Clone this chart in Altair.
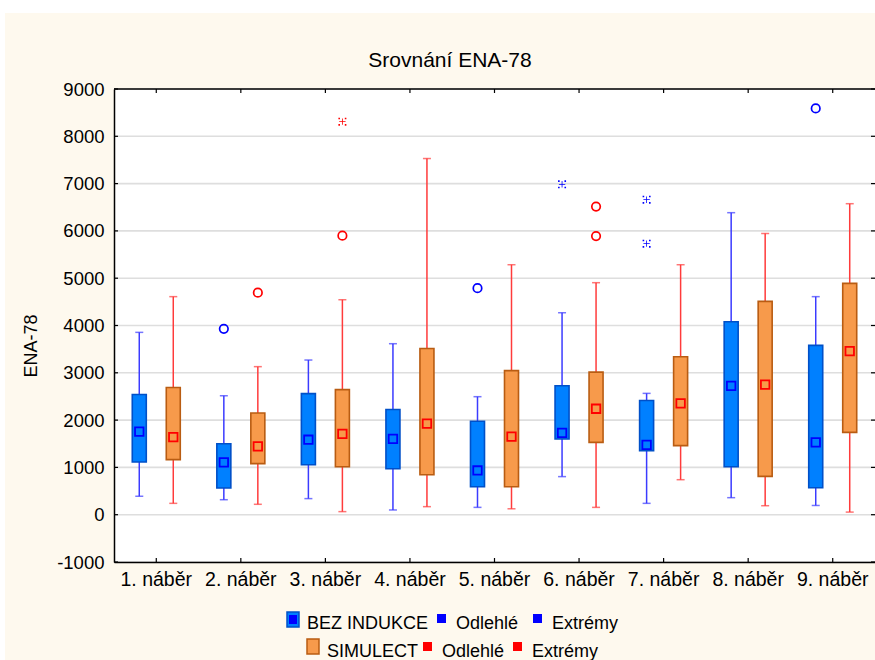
import altair as alt
import pandas as pd

# ---------------- data ----------------
categories = ["1. náběr", "2. náběr", "3. náběr", "4. náběr", "5. náběr",
              "6. náběr", "7. náběr", "8. náběr", "9. náběr"]
groups = ["BEZ INDUKCE", "SIMULECT"]

# BEZ INDUKCE: whisker low, Q1, median, Q3, whisker high
bez_lo = [390, 317, 340, 100, 155, 805, 240, 360, 195]
bez_q1 = [1115, 565, 1055, 970, 590, 1600, 1355, 1015, 570]
bez_med = [1755, 1105, 1585, 1605, 935, 1730, 1475, 2725, 1530]
bez_q3 = [2540, 1500, 2560, 2225, 1975, 2725, 2415, 4080, 3580]
bez_hi = [3855, 2515, 3270, 3615, 2495, 4270, 2565, 6385, 4610]

# SIMULECT
sim_lo = [240, 220, 65, 170, 125, 155, 740, 190, 55]
sim_q1 = [1165, 1080, 1015, 845, 590, 1530, 1460, 810, 1740]
sim_med = [1640, 1445, 1710, 1925, 1650, 2240, 2355, 2750, 3460]
sim_q3 = [2690, 2150, 2645, 3515, 3045, 3015, 3340, 4510, 4890]
sim_hi = [4610, 3130, 4545, 7530, 5285, 4905, 5285, 5945, 6575]

# outliers (Odlehlé) and extremes (Extrémy)
bez_out_cat = ["2. náběr", "5. náběr", "9. náběr"]
bez_out_val = [3930, 4790, 8590]
sim_out_cat = ["2. náběr", "3. náběr", "6. náběr", "6. náběr"]
sim_out_val = [4695, 5900, 5890, 6515]
bez_ext_cat = ["6. náběr", "7. náběr", "7. náběr"]
bez_ext_val = [6985, 6660, 5730]
sim_ext_cat = ["3. náběr"]
sim_ext_val = [8310]

y_ticks = [-1000, 0, 1000, 2000, 3000, 4000, 5000, 6000, 7000, 8000, 9000]

title_text = "Srovnání ENA-78"
y_title = "ENA-78"
legend_labels = ["BEZ INDUKCE", "Odlehlé", "Extrémy", "SIMULECT", "Odlehlé", "Extrémy"]

# ---------------- tables ----------------
box_rows = []
for i, c in enumerate(categories):
    box_rows.append(dict(cat=c, group=groups[0], lo=bez_lo[i], q1=bez_q1[i],
                         med=bez_med[i], q3=bez_q3[i], hi=bez_hi[i]))
    box_rows.append(dict(cat=c, group=groups[1], lo=sim_lo[i], q1=sim_q1[i],
                         med=sim_med[i], q3=sim_q3[i], hi=sim_hi[i]))
box_df = pd.DataFrame(box_rows)

cap_df = pd.concat([
    box_df[["cat", "group", "lo"]].rename(columns={"lo": "v"}),
    box_df[["cat", "group", "hi"]].rename(columns={"hi": "v"}),
])

out_df = pd.DataFrame(
    [dict(cat=c, group=groups[0], v=v) for c, v in zip(bez_out_cat, bez_out_val)]
    + [dict(cat=c, group=groups[1], v=v) for c, v in zip(sim_out_cat, sim_out_val)]
)
ext_df = pd.DataFrame(
    [dict(cat=c, group=groups[0], v=v) for c, v in zip(bez_ext_cat, bez_ext_val)]
    + [dict(cat=c, group=groups[1], v=v) for c, v in zip(sim_ext_cat, sim_ext_val)]
)
tick_df = pd.DataFrame({"v": y_ticks})
cat_df = pd.DataFrame({"cat": categories})
one = pd.DataFrame({"k": [0]})

# ---------------- layout ----------------
W, H = 761, 473
PL, PT = 114, 89
FONT = "Liberation Sans"

BOX_FILL = ["#0080FF", "#F79A4B"]
BOX_STROKE = ["#0050C8", "#B95C12"]
WHISK = ["#3B3BFF", "#FF3B3B"]
MARK = ["#0000FF", "#FF0000"]

yscale = alt.Scale(domain=[-1000, 9000], nice=False, zero=False)
xscale = alt.Scale(domain=categories, paddingInner=0, paddingOuter=0)
xoff = alt.XOffset("group:N", scale=alt.Scale(domain=groups, paddingInner=0, paddingOuter=0.2435))

xenc = alt.X("cat:N", scale=xscale, sort=categories,
             axis=alt.Axis(title=None, labelFont=FONT, labelFontSize=19.5, labelColor="#000",
                           labelPadding=8, labelAngle=0, ticks=False, grid=False,
                           domainColor="#000", domainWidth=1.5, zindex=1))
yenc_axis = alt.Axis(title=None, values=y_ticks, labelExpr="'' + datum.value",
                     labelFont=FONT, labelFontSize=18.5,
                     labelColor="#000", labelPadding=10, ticks=False, grid=False,
                     domainColor="#000", domainWidth=1.5, zindex=1)


def sub(df, g):
    return df[df["group"] == g]


# background pieces
cream = alt.Chart(one).mark_rect(fill="#FEF9EE").encode(
    x=alt.value(5 - PL), x2=alt.value(W + 10), y=alt.value(13 - PT), y2=alt.value(660 - PT + 10))
white = alt.Chart(one).mark_rect(fill="#FFFFFF").encode(
    x=alt.value(0), x2=alt.value(W), y=alt.value(0), y2=alt.value(H))

grid = alt.Chart(tick_df).mark_rule(color="#DEDEDE", strokeWidth=1.6).encode(
    x=alt.value(0), x2=alt.value(W), y=alt.Y("v:Q", scale=yscale, axis=yenc_axis))

layers = [cream, white, grid]

EXT_SHAPE = ("M-1,-1h0.4v0.4h-0.4z M0.6,-1h0.4v0.4h-0.4z M-1,0.6h0.4v0.4h-0.4z "
             "M0.6,0.6h0.4v0.4h-0.4z M-0.1,-0.8h0.2v1.6h-0.2z M-0.8,-0.1h1.6v0.2h-1.6z")

for gi, g in enumerate(groups):
    bd = sub(box_df, g)
    layers.append(alt.Chart(bd).mark_rule(strokeWidth=1.5, color=WHISK[gi]).encode(
        x=xenc, xOffset=xoff, y=alt.Y("lo:Q", scale=yscale), y2="hi:Q"))
    layers.append(alt.Chart(sub(cap_df, g)).mark_tick(size=8, thickness=1.5, color=WHISK[gi]).encode(
        x=xenc, xOffset=xoff, y=alt.Y("v:Q", scale=yscale)))

for gi, g in enumerate(groups):
    bd = sub(box_df, g)
    layers.append(alt.Chart(bd).mark_bar(width=14, strokeWidth=1.6, fill=BOX_FILL[gi],
                                         stroke=BOX_STROKE[gi]).encode(
        x=xenc, xOffset=xoff, y=alt.Y("q1:Q", scale=yscale), y2="q3:Q"))
    layers.append(alt.Chart(bd).mark_point(shape="square", size=72, filled=False, strokeWidth=1.8,
                                           opacity=1, color=MARK[gi]).encode(
        x=xenc, xOffset=xoff, y=alt.Y("med:Q", scale=yscale)))
    layers.append(alt.Chart(sub(out_df, g)).mark_point(shape="circle", size=72, filled=False,
                                                       strokeWidth=1.7, opacity=1,
                                                       color=MARK[gi]).encode(
        x=xenc, xOffset=xoff, y=alt.Y("v:Q", scale=yscale)))
    layers.append(alt.Chart(sub(ext_df, g)).mark_point(shape=EXT_SHAPE, size=64, filled=True,
                                                       opacity=1, strokeWidth=0,
                                                       color=MARK[gi]).encode(
        x=xenc, xOffset=xoff, y=alt.Y("v:Q", scale=yscale)))

# frame top line and inward ticks
top_line = alt.Chart(one).mark_rule(color="#000", strokeWidth=1.5).encode(
    x=alt.value(0), x2=alt.value(W), y=alt.value(0))
lt = alt.Chart(tick_df).mark_rule(color="#000", strokeWidth=1.2).encode(
    x=alt.value(0), x2=alt.value(4), y=alt.Y("v:Q", scale=yscale))
rt = alt.Chart(tick_df).mark_rule(color="#000", strokeWidth=1.2).encode(
    x=alt.value(W - 4), x2=alt.value(W), y=alt.Y("v:Q", scale=yscale))
bt = alt.Chart(cat_df).mark_rule(color="#000", strokeWidth=1.2).encode(
    x=xenc, y=alt.value(H - 4), y2=alt.value(H))
tt = alt.Chart(cat_df).mark_rule(color="#000", strokeWidth=1.2).encode(
    x=xenc, y=alt.value(0), y2=alt.value(4))
layers += [top_line, lt, rt, bt, tt]

# texts
title = alt.Chart(one).mark_text(font=FONT, fontSize=21, color="#000", align="center",
                                 baseline="alphabetic").encode(
    x=alt.value(450 - PL), y=alt.value(67 - PT), text=alt.value(title_text))
ytitle = alt.Chart(one).mark_text(font=FONT, fontSize=18, color="#000", align="center",
                                  baseline="middle", angle=270).encode(
    x=alt.value(32 - PL), y=alt.value(346 - PT), text=alt.value(y_title))
layers += [title, ytitle]


def ltext(label, x, ybase):
    return alt.Chart(one).mark_text(font=FONT, fontSize=18, color="#000", align="left",
                                    baseline="alphabetic").encode(
        x=alt.value(x - PL), y=alt.value(ybase - PT), text=alt.value(label))


def lrect(x1, x2, y1, y2, fill, stroke=None):
    kw = dict(fill=fill)
    if stroke:
        kw.update(stroke=stroke, strokeWidth=1.5)
    return alt.Chart(one).mark_rect(**kw).encode(
        x=alt.value(x1 - PL), x2=alt.value(x2 - PL), y=alt.value(y1 - PT), y2=alt.value(y2 - PT))


layers += [
    lrect(287, 299, 612, 627, BOX_FILL[0], BOX_STROKE[0]),
    lrect(289, 297, 615, 624, MARK[0]),
    ltext(legend_labels[0], 307, 629),
    lrect(437, 446, 614, 623, MARK[0]),
    ltext(legend_labels[1], 456, 629),
    lrect(533, 542, 614, 623, MARK[0]),
    ltext(legend_labels[2], 552, 629),
    lrect(307, 319, 639, 654, BOX_FILL[1], BOX_STROKE[1]),
    ltext(legend_labels[3], 327, 657),
    lrect(423, 432, 642, 651, MARK[1]),
    ltext(legend_labels[4], 442, 657),
    lrect(513, 522, 642, 651, MARK[1]),
    ltext(legend_labels[5], 532, 657),
]

chart = alt.layer(*layers).properties(
    width=W, height=H,
    autosize=alt.AutoSizeParams(type="none"),
    padding={"left": PL, "top": PT, "right": 0, "bottom": 660 - PT - H},
    background="#FFFFFF",
).configure_view(strokeWidth=0)

chart.save("out.html", embed_options={"renderer": "svg", "actions": False})
